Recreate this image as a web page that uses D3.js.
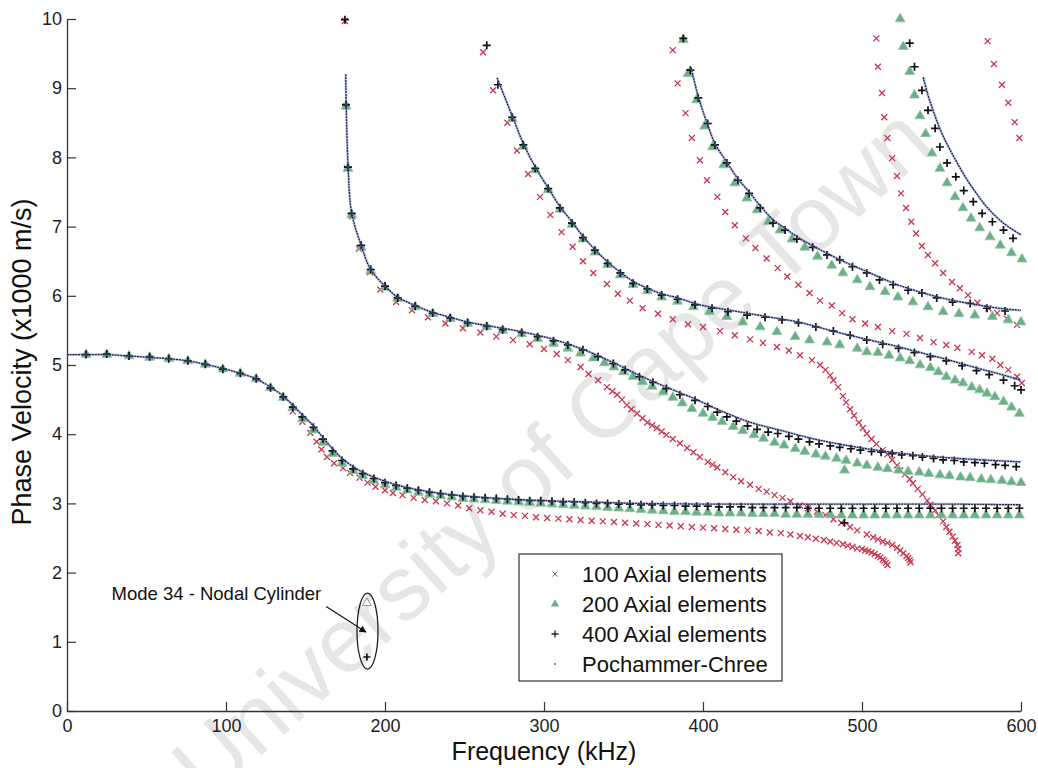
<!DOCTYPE html>
<html>
<head>
<meta charset="utf-8">
<script src="https://cdn.jsdelivr.net/npm/d3@7"></script>
<style>
  html, body { margin: 0; padding: 0; background: #fff; }
  svg { display: block; font-family: "Liberation Sans", Arial, sans-serif; }
</style>
</head>
<body>
<svg id="chart" width="1038" height="768"></svg>
<script>
// ---- axis ticks and labels ----
const freqTicks = [0, 100, 200, 300, 400, 500, 600];
const velTicks = [0, 1, 2, 3, 4, 5, 6, 7, 8, 9, 10];
const legendLabels = ["100 Axial elements", "200 Axial elements", "400 Axial elements", "Pochammer-Chree"];

// ---- Pochammer-Chree analytic branches [kHz, x1000 m/s] ----
const pcA = [[0,5.15],[12,5.15],[25,5.15],[39,5.13],[52,5.11],[64,5.09],[76,5.06],[87,5.01],[98,4.95],[109,4.88],[119,4.80],[128,4.68],[136,4.55],[142,4.42],[148,4.28],[155,4.12],[161,3.95],[167,3.79],[173,3.65],[180,3.53],[186,3.45],[193,3.38],[200,3.32],[210,3.25],[220,3.20],[240,3.13],[260,3.09],[280,3.06],[300,3.04],[330,3.02],[360,3.00],[400,2.99],[450,2.99],[500,2.99],[550,2.99],[600,2.98]];
const pcB = [[175.3,9.2],[175.6,8.75],[176.8,7.86],[179,7.2],[185,6.73],[191,6.38],[200,6.14],[208,5.98],[219,5.86],[230,5.76],[241,5.69],[252,5.62],[264,5.57],[286,5.48],[306,5.37],[324,5.23],[344,5.03],[360,4.85],[377,4.68],[395,4.51],[410,4.35],[430,4.17],[448,4.06],[470,3.93],[500,3.80],[530,3.71],[560,3.65],[600,3.60]];
const pcC = [[270.5,9.15],[280,8.6],[287,8.2],[294.5,7.86],[302.6,7.56],[310,7.29],[317.6,7.07],[324.5,6.86],[332,6.67],[340,6.49],[348,6.34],[356,6.21],[365,6.11],[374,6.03],[384,5.97],[398,5.87],[420,5.78],[440,5.70],[460,5.62],[480,5.50],[503,5.37],[520,5.28],[540,5.16],[555,5.07],[570,4.97],[585,4.88],[600,4.78]];
const pcD = [[392.5,9.3],[397,8.88],[402.5,8.5],[407.5,8.2],[415,7.93],[422,7.69],[429,7.5],[436,7.3],[444,7.1],[452,6.97],[460,6.84],[470,6.71],[480,6.59],[490,6.48],[500,6.38],[510,6.28],[520,6.18],[530,6.1],[540,6.03],[550,5.97],[560,5.92],[570,5.88],[580,5.84],[590,5.81],[600,5.79]];
const pcE = [[538.5,9.16],[541.5,8.9],[545,8.66],[550,8.36],[557,8.04],[566,7.68],[572,7.48],[578.6,7.28],[589,7.05],[600,6.88]];

// ---- 100 axial elements ----
const el100A = [[142,4.33],[148,4.18],[153,4.02],[157,3.89],[160,3.78],[163.5,3.67],[168,3.58],[173.6,3.51],[178,3.44],[184,3.37],[189,3.30],[194,3.24],[200,3.19],[205,3.15],[211,3.12],[218,3.08],[225,3.05],[232,3.03],[239,3.00],[246,2.97],[253,2.93],[260,2.90],[267,2.88],[274,2.85],[281,2.83],[288,2.82],[295,2.80],[302,2.79],[309,2.78],[316,2.77],[323,2.76],[330,2.75],[337,2.74],[344,2.73],[351,2.72],[358,2.71],[365,2.70],[372,2.69],[379,2.68],[386,2.67],[393,2.66],[400,2.65],[407,2.64],[414,2.63],[421,2.62],[428,2.61],[435,2.60],[442,2.58],[449,2.57],[455,2.55],[461,2.53],[466,2.51],[471,2.49],[476,2.47],[480,2.45],[484,2.43],[488,2.41],[491,2.39],[494,2.37],[497,2.35],[500,2.34],[502,2.32],[504,2.31],[506,2.29],[508,2.27],[510,2.24],[511.5,2.22],[513,2.19],[514,2.17],[515,2.14],[516,2.11]];
const el100B = [[174.8,9.97],[175.5,8.74],[176,7.84],[179.5,7.15],[183.6,6.68],[190.6,6.34],[197,6.09],[207,5.91],[217,5.79],[227,5.69],[238,5.60],[249,5.53],[260,5.47],[270,5.41],[280.5,5.36],[291,5.30],[300,5.23],[308,5.16],[315,5.07],[323,4.97],[328,4.87],[334,4.78],[339.6,4.68],[343,4.62],[346,4.57],[349,4.50],[352,4.42],[355,4.36],[358.5,4.30],[362,4.23],[365,4.17],[368,4.13],[371,4.09],[374,4.04],[377,3.99],[381,3.93],[385.5,3.87],[390,3.80],[394,3.74],[398,3.67],[403,3.60],[406,3.56],[409,3.52],[414,3.45],[419,3.38],[424,3.32],[429.6,3.27],[435,3.21],[440,3.17],[445,3.12],[450,3.08],[455,3.03],[461,2.97],[466,2.93],[471.7,2.88],[477,2.83],[482,2.77],[487,2.72],[492.5,2.66],[497,2.61],[503,2.55],[507,2.51],[510,2.48],[513,2.45],[516,2.43],[519,2.40],[522,2.36],[524,2.32],[526,2.28],[528,2.24],[529,2.21],[530,2.18],[530.5,2.15]];
const el100C = [[261.7,9.52],[268,8.97],[277,8.50],[283,8.10],[290,7.76],[297.5,7.43],[304,7.17],[311,6.92],[318,6.71],[324.5,6.50],[331,6.33],[339.6,6.17],[346.5,6.03],[354,5.93],[362,5.82],[371.7,5.74],[381,5.66],[390.6,5.59],[400,5.55],[410.7,5.49],[420,5.43],[429.6,5.37],[437.7,5.32],[446.5,5.26],[454,5.21],[461,5.14],[468.5,5.07],[473.6,5.00],[477,4.93],[480,4.85],[482,4.78],[485,4.68],[488,4.55],[490,4.46],[492.5,4.36],[495,4.27],[498,4.17],[500.5,4.09],[503,4.01],[506,3.93],[509,3.86],[513,3.77],[516,3.71],[519,3.63],[522,3.55],[524,3.48],[527,3.42],[530,3.35],[532,3.29],[535,3.21],[538,3.13],[541,3.04],[543,2.98],[546,2.90],[548,2.83],[551,2.74],[553,2.66],[555,2.59],[557,2.52],[558.5,2.46],[560,2.40],[560.5,2.34],[560.5,2.28]];
const el100D = [[381,9.55],[384,9.07],[389,8.64],[393,8.28],[398,7.96],[402.5,7.67],[409,7.43],[414,7.21],[420,7.02],[427,6.83],[433,6.69],[440,6.54],[447,6.40],[453,6.28],[460,6.16],[467,6.04],[473.6,5.93],[481,5.86],[487.5,5.75],[494,5.66],[502,5.60],[510,5.55],[519,5.49],[528,5.45],[536.5,5.39],[545,5.33],[553,5.29],[560,5.25],[569,5.19],[575.5,5.14],[582,5.09],[587,5.00],[592,4.93],[597.5,4.83],[600.5,4.74]];
const el100E = [[509,9.72],[510,9.31],[512.6,8.93],[514,8.58],[516,8.28],[519,7.99],[522,7.73],[524.5,7.48],[527.7,7.27],[531,7.07],[534,6.90],[537.7,6.72],[541.5,6.59],[546,6.47],[551,6.33],[556.6,6.20],[561.6,6.11],[566.7,6.01],[572.6,5.90],[579.5,5.82],[585,5.75],[591,5.67],[597.5,5.58]];
const el100F = [[579,9.68],[583,9.35],[588,9.05],[592,8.79],[596,8.51],[599,8.28]];

// ---- 200 axial elements ----
const el200A = [[12,5.15],[25,5.15],[39,5.13],[52,5.11],[64,5.09],[76,5.06],[87,5.01],[98,4.94],[109,4.88],[119,4.80],[128,4.67],[136,4.53],[142,4.38],[148,4.22],[155,4.06],[161,3.88],[167,3.72],[173,3.58],[180,3.47],[186,3.40],[193,3.33],[200,3.27],[207,3.23],[214,3.19],[221,3.16],[228,3.13],[235,3.11],[242,3.09],[249,3.07],[256,3.06],[263,3.05],[270,3.04],[277,3.03],[284,3.02],[291,3.01],[298,3.00],[305,2.99],[312,2.98],[319,2.97],[326,2.96],[333,2.95],[340,2.94],[347,2.93],[354,2.92],[361,2.91],[368,2.90],[375,2.89],[382,2.88],[389,2.88],[396,2.87],[403,2.87],[410,2.86],[417,2.86],[424,2.86],[431,2.85],[438,2.85],[445,2.85],[452,2.84],[459,2.84],[466,2.84],[473,2.84],[480,2.84],[487,2.83],[494,2.83],[501,2.83],[508,2.83],[515,2.83],[522,2.83],[529,2.83],[536,2.83],[543,2.83],[550,2.83],[557,2.83],[564,2.83],[571,2.83],[578,2.83],[585,2.83],[592,2.83],[599,2.83]];
const el200B = [[175.5,8.74],[176.7,7.84],[179,7.17],[185,6.70],[191,6.36],[200,6.12],[208,5.96],[219,5.84],[230,5.74],[241,5.67],[252,5.60],[264,5.55],[274,5.50],[286,5.45],[296,5.38],[306,5.31],[315,5.24],[323,5.17],[331,5.10],[338,5.03],[344,4.97],[350,4.90],[356,4.83],[362,4.76],[368,4.69],[375,4.61],[381,4.53],[387,4.45],[393,4.37],[400,4.30],[406,4.24],[412,4.18],[419,4.11],[425,4.05],[432,3.99],[438,3.94],[445,3.88],[451,3.84],[458,3.79],[464,3.75],[471,3.71],[477,3.68],[484,3.65],[489,3.48],[490,3.62],[497,3.58],[503,3.55],[510,3.52],[516,3.50],[523,3.48],[529,3.46],[536,3.45],[542,3.43],[549,3.41],[555,3.40],[562,3.38],[568,3.37],[575,3.35],[581,3.34],[588,3.33],[594,3.31],[600,3.30]];
const el200C = [[280,8.56],[287,8.16],[294.5,7.82],[302.6,7.53],[310,7.25],[317.6,7.03],[324.5,6.82],[332,6.63],[340,6.45],[348,6.30],[356,6.16],[365,6.07],[374,5.98],[384,5.92],[394,5.84],[404,5.77],[415,5.70],[425,5.62],[436,5.55],[446.5,5.48],[458,5.41],[467,5.36],[478,5.33],[486,5.29],[497,5.24],[503,5.19],[510,5.18],[517,5.14],[524,5.10],[530,5.06],[536.5,5.00],[543,4.96],[548,4.90],[553,4.83],[558.5,4.78],[563.5,4.74],[569,4.68],[574,4.64],[578.6,4.59],[583.6,4.54],[589,4.47],[594,4.39],[599,4.30]];
const el200D = [[387.6,9.70],[390.6,9.21],[396,8.83],[401,8.45],[406,8.15],[413,7.89],[420,7.63],[427.6,7.41],[434,7.24],[441,7.07],[448.4,6.95],[456,6.82],[464,6.70],[472,6.57],[481,6.44],[488,6.33],[497,6.23],[505,6.13],[514.5,6.06],[522.6,5.98],[532,5.91],[541.5,5.84],[551,5.77],[561,5.74],[571,5.72],[582,5.70],[592,5.65],[600,5.62]];
const el200E = [[524,10.0],[526,9.60],[530,9.24],[533,8.90],[536.5,8.60],[540,8.34],[544,8.06],[549,7.84],[553.5,7.63],[558.5,7.43],[563.5,7.27],[568.6,7.12],[574,6.98],[580.5,6.85],[587,6.73],[594,6.62],[600.6,6.53]];

// ---- 400 axial elements ----
const el400A = [[12,5.15],[25,5.16],[39,5.13],[52,5.12],[64,5.09],[76,5.06],[87,5.01],[98,4.94],[109,4.88],[119,4.80],[128,4.67],[136,4.54],[142,4.39],[148,4.25],[155,4.10],[161,3.93],[167,3.76],[173,3.62],[180,3.50],[186,3.43],[193,3.36],[200,3.30],[207,3.26],[214,3.22],[221,3.19],[228,3.16],[235,3.14],[242,3.12],[249,3.10],[256,3.09],[263,3.08],[270,3.07],[277,3.06],[284,3.05],[291,3.04],[298,3.04],[305,3.03],[312,3.02],[319,3.02],[326,3.01],[333,3.00],[340,3.00],[347,2.99],[354,2.99],[361,2.98],[368,2.98],[375,2.97],[382,2.97],[389,2.96],[396,2.96],[403,2.96],[410,2.95],[417,2.95],[424,2.95],[431,2.94],[438,2.94],[445,2.94],[452,2.94],[459,2.94],[466,2.93],[473,2.93],[480,2.93],[487,2.93],[489,2.72],[494,2.93],[501,2.93],[508,2.93],[515,2.93],[522,2.93],[529,2.93],[536,2.93],[543,2.93],[550,2.93],[557,2.93],[564,2.93],[571,2.93],[578,2.93],[585,2.93],[592,2.93],[599,2.93]];
const el400B = [[174.8,9.99],[175.5,8.76],[176.7,7.86],[179,7.19],[185,6.73],[191,6.38],[200,6.14],[208,5.97],[219,5.85],[230,5.75],[241,5.68],[252,5.61],[264,5.56],[274,5.51],[286,5.47],[296,5.41],[306,5.35],[315,5.29],[324.5,5.22],[334,5.12],[343.6,5.02],[351,4.93],[360,4.83],[368.5,4.75],[377,4.66],[385.5,4.57],[395,4.49],[403,4.40],[409,4.32],[415,4.25],[421,4.19],[428,4.12],[434,4.07],[441,4.03],[447,4.01],[454,3.97],[460,3.93],[467,3.89],[473,3.86],[480,3.83],[486,3.81],[493,3.79],[499,3.77],[506,3.75],[512,3.74],[519,3.72],[525,3.70],[532,3.69],[538,3.67],[545,3.65],[551,3.63],[558,3.62],[564,3.60],[571,3.59],[577,3.58],[584,3.56],[590,3.55],[597,3.53]];
const el400C = [[264,9.62],[271,9.05],[280,8.58],[287,8.18],[294.5,7.84],[302.6,7.55],[310,7.27],[317.6,7.05],[324.5,6.84],[332,6.66],[340,6.47],[348,6.33],[356,6.18],[365,6.10],[374,6.01],[384,5.95],[395,5.87],[405.7,5.82],[415.7,5.77],[427.7,5.72],[439,5.69],[449.7,5.65],[460,5.61],[471,5.55],[482,5.49],[492.5,5.43],[503,5.36],[513,5.30],[523,5.24],[533,5.18],[543,5.12],[553,5.06],[563,4.99],[572,4.92],[580,4.86],[589,4.78],[596,4.70],[600,4.64]];
const el400D = [[387.6,9.72],[392,9.26],[397,8.86],[403,8.49],[407.5,8.18],[415,7.92],[422,7.67],[429,7.48],[436,7.27],[444,7.05],[451.6,6.95],[459,6.82],[469,6.70],[478,6.59],[486,6.52],[494,6.42],[503,6.33],[511,6.23],[519.6,6.16],[529,6.08],[537.7,6.04],[547,5.97],[557,5.91],[568,5.89],[578.6,5.82],[590,5.78]];
const el400E = [[530,9.65],[533,9.31],[537.7,8.97],[541.5,8.68],[546,8.42],[549,8.15],[553.5,7.92],[559,7.72],[564,7.52],[570,7.36],[575.5,7.19],[582,7.07],[589,6.95],[595,6.83]];

// ---- highlighted nodal-cylinder mode ----
const mode34Tri = [[188.6, 1.56]];
const mode34Plus = [[188.6, 0.78]];

// ---------------------------------------------------------------
const svg = d3.select("#chart");
const x = d3.scaleLinear().domain([0, 600]).range([67, 1021]);
const y = d3.scaleLinear().domain([0, 10]).range([711, 19]);

const RED = "#c8374f", GREEN = "#6cae88", BLACK = "#111";

// watermark text behind the plot
svg.append("text")
  .attr("transform", "translate(556,458) rotate(-42)")
  .attr("text-anchor", "middle")
  .attr("dominant-baseline", "middle")
  .attr("font-size", 91)
  .attr("fill", "#e6e6e6")
  .text("University of Cape Town");

// axes
const yAxis = d3.axisLeft(y).tickValues(velTicks).tickSizeInner(-9).tickSizeOuter(0).tickPadding(5);
const xAxis = d3.axisBottom(x).tickValues(freqTicks).tickSizeInner(-9).tickSizeOuter(0).tickPadding(8);

const gy = svg.append("g").attr("transform", `translate(${x(0)},0)`).call(yAxis);
const gx = svg.append("g").attr("transform", `translate(0,${y(0)})`).call(xAxis);
[gx, gy].forEach(g => {
  g.selectAll("path.domain").attr("stroke", "#333").attr("stroke-width", 1.3);
  g.selectAll(".tick line").attr("stroke", "#333").attr("stroke-width", 1.2);
  g.selectAll(".tick text").attr("font-size", 18).attr("fill", "#222")
    .attr("font-family", "'Liberation Sans', Arial, sans-serif");
});

// axis titles
svg.append("text")
  .attr("x", x(300)).attr("y", 760)
  .attr("text-anchor", "middle").attr("font-size", 25).attr("fill", "#111")
  .text("Frequency (kHz)");
svg.append("text")
  .attr("transform", "translate(31,362) rotate(-90)")
  .attr("text-anchor", "middle").attr("font-size", 27).attr("fill", "#111")
  .text("Phase Velocity (x1000 m/s)");

// marker painters
const plot = svg.append("g");
function crosses(data, color, s = 3) {
  plot.append("g").selectAll("path").data(data).join("path")
    .attr("transform", d => `translate(${x(d[0])},${y(d[1])})`)
    .attr("d", `M${-s},${-s}L${s},${s}M${-s},${s}L${s},${-s}`)
    .attr("stroke", color).attr("stroke-width", 1.3).attr("fill", "none");
}
function triangles(data, fill, stroke, size = 42) {
  plot.append("g").selectAll("path").data(data).join("path")
    .attr("transform", d => `translate(${x(d[0])},${y(d[1])})`)
    .attr("d", d3.symbol(d3.symbolTriangle, size)())
    .attr("fill", fill).attr("stroke", stroke).attr("stroke-width", 0.8);
}
function pluses(data, color, s = 4) {
  plot.append("g").selectAll("path").data(data).join("path")
    .attr("transform", d => `translate(${x(d[0])},${y(d[1])})`)
    .attr("d", `M${-s},0H${s}M0,${-s}V${s}`)
    .attr("stroke", color).attr("stroke-width", 1.7).attr("fill", "none");
}

[el100A, el100B, el100C, el100D, el100E, el100F].forEach(m => crosses(m, RED));
[el200A, el200B, el200C, el200D, el200E].forEach(m => triangles(m, GREEN, "#8cc4a2"));
[el400A, el400B, el400C, el400D, el400E].forEach(m => pluses(m, BLACK));

// analytic curves
const line = d3.line().x(d => x(d[0])).y(d => y(d[1])).curve(d3.curveCatmullRom.alpha(0.5));
[pcA, pcB, pcC, pcD, pcE].forEach(m => {
  plot.append("path").datum(m).attr("d", line)
    .attr("fill", "none").attr("stroke", "#7f8fd0").attr("stroke-width", 2.6).attr("stroke-opacity", 0.45);
  plot.append("path").datum(m).attr("d", line)
    .attr("fill", "none").attr("stroke", "#1b2150").attr("stroke-width", 1.3)
    .attr("stroke-dasharray", "2,0.8");
});

// nodal cylinder annotation
triangles(mode34Tri, "#fff", "#777", 34);
pluses(mode34Plus, BLACK, 3.5);
svg.append("ellipse")
  .attr("cx", x(189)).attr("cy", y(1.155)).attr("rx", 10.5).attr("ry", 38)
  .attr("fill", "none").attr("stroke", "#222").attr("stroke-width", 1.3);
svg.append("defs").append("marker")
  .attr("id", "arrowhead").attr("viewBox", "0 0 10 10").attr("refX", 9).attr("refY", 5)
  .attr("markerWidth", 9).attr("markerHeight", 7).attr("markerUnits", "userSpaceOnUse")
  .attr("orient", "auto")
  .append("path").attr("d", "M0,0L10,5L0,10z").attr("fill", "#111");
svg.append("line")
  .attr("x1", x(163)).attr("y1", y(1.51)).attr("x2", x(188)).attr("y2", y(1.14))
  .attr("stroke", "#111").attr("stroke-width", 1.2).attr("marker-end", "url(#arrowhead)");
svg.append("text")
  .attr("x", x(28)).attr("y", y(1.6)).attr("font-size", 18.5).attr("fill", "#111")
  .text("Mode 34 - Nodal Cylinder");

// legend
const lg = svg.append("g").attr("transform", "translate(519,554)");
lg.append("rect").attr("width", 263).attr("height", 127)
  .attr("fill", "#fff").attr("stroke", "#333").attr("stroke-width", 1.2);
legendLabels.forEach((label, i) => {
  const cy = 20 + i * 30;
  const row = lg.append("g").attr("transform", `translate(36,${cy})`);
  if (i === 0) row.append("path").attr("d", "M-2.5,-2.5L2.5,2.5M-2.5,2.5L2.5,-2.5").attr("stroke", "#666").attr("stroke-width", 1);
  if (i === 1) row.append("path").attr("d", d3.symbol(d3.symbolTriangle, 30)()).attr("fill", GREEN);
  if (i === 2) row.append("path").attr("d", "M-3.5,0H3.5M0,-3.5V3.5").attr("stroke", "#222").attr("stroke-width", 1.3);
  if (i === 3) row.append("circle").attr("r", 0.9).attr("fill", "#555");
  row.append("text").attr("x", 27).attr("y", 8).attr("font-size", 22).attr("fill", "#111").text(label);
});
</script>
</body>
</html>
